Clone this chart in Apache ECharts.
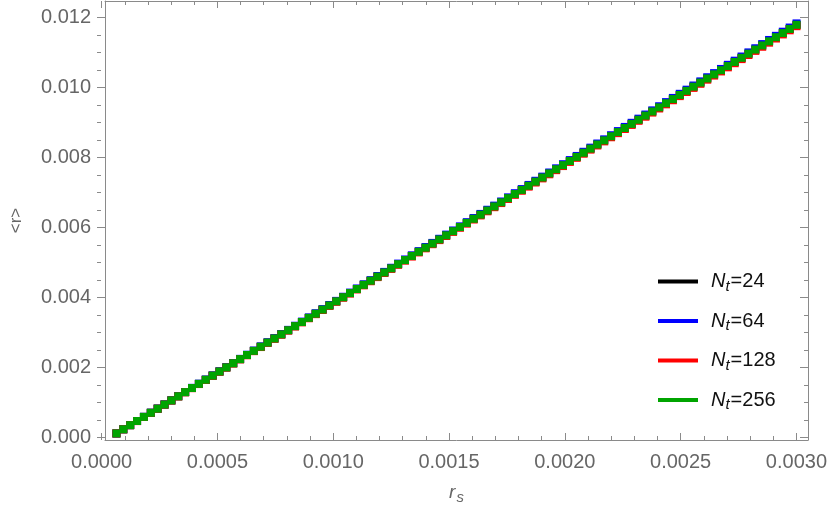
<!DOCTYPE html>
<html>
<head>
<meta charset="utf-8">
<script src="https://cdn.jsdelivr.net/npm/echarts@6/dist/echarts.min.js"></script>
<style>
  html, body { margin: 0; padding: 0; background: #fff; }
  #chart { width: 830px; height: 515px; }
</style>
</head>
<body>
<div id="chart"></div>
<script>
// r_s values (x)
var rs = [0.00003, 0.00006, 0.00009, 0.00012, 0.00015, 0.00018, 0.00021, 0.00024, 0.00027, 0.00030,
  0.00033, 0.00036, 0.00039, 0.00042, 0.00045, 0.00048, 0.00051, 0.00054, 0.00057, 0.00060,
  0.00063, 0.00066, 0.00069, 0.00072, 0.00075, 0.00078, 0.00081, 0.00084, 0.00087, 0.00090,
  0.00093, 0.00096, 0.00099, 0.00102, 0.00105, 0.00108, 0.00111, 0.00114, 0.00117, 0.00120,
  0.00123, 0.00126, 0.00129, 0.00132, 0.00135, 0.00138, 0.00141, 0.00144, 0.00147, 0.00150,
  0.00153, 0.00156, 0.00159, 0.00162, 0.00165, 0.00168, 0.00171, 0.00174, 0.00177, 0.00180,
  0.00183, 0.00186, 0.00189, 0.00192, 0.00195, 0.00198, 0.00201, 0.00204, 0.00207, 0.00210,
  0.00213, 0.00216, 0.00219, 0.00222, 0.00225, 0.00228, 0.00231, 0.00234, 0.00237, 0.00240,
  0.00243, 0.00246, 0.00249, 0.00252, 0.00255, 0.00258, 0.00261, 0.00264, 0.00267, 0.00270,
  0.00273, 0.00276, 0.00279, 0.00282, 0.00285, 0.00288, 0.00291, 0.00294, 0.00297, 0.00300];

// <r> for Nt = 24 (hidden under the other curves)
var r24 = [0.000118, 0.000236, 0.000354, 0.000472, 0.000590, 0.000707, 0.000825, 0.000943, 0.001061, 0.001179,
  0.001297, 0.001415, 0.001533, 0.001651, 0.001769, 0.001886, 0.002004, 0.002122, 0.002240, 0.002358,
  0.002476, 0.002594, 0.002712, 0.002830, 0.002948, 0.003065, 0.003183, 0.003301, 0.003419, 0.003537,
  0.003655, 0.003773, 0.003891, 0.004009, 0.004127, 0.004244, 0.004362, 0.004480, 0.004598, 0.004716,
  0.004834, 0.004952, 0.005070, 0.005188, 0.005306, 0.005423, 0.005541, 0.005659, 0.005777, 0.005895,
  0.006013, 0.006131, 0.006249, 0.006367, 0.006485, 0.006602, 0.006720, 0.006838, 0.006956, 0.007074,
  0.007192, 0.007310, 0.007428, 0.007546, 0.007664, 0.007781, 0.007899, 0.008017, 0.008135, 0.008253,
  0.008371, 0.008489, 0.008607, 0.008725, 0.008843, 0.008960, 0.009078, 0.009196, 0.009314, 0.009432,
  0.009550, 0.009668, 0.009786, 0.009904, 0.010022, 0.010139, 0.010257, 0.010375, 0.010493, 0.010611,
  0.010729, 0.010847, 0.010965, 0.011083, 0.011201, 0.011318, 0.011436, 0.011554, 0.011672, 0.011790];

// <r> for Nt = 64
var r64 = [0.000118, 0.000237, 0.000355, 0.000473, 0.000592, 0.000710, 0.000828, 0.000946, 0.001065, 0.001183,
  0.001301, 0.001420, 0.001538, 0.001656, 0.001775, 0.001893, 0.002011, 0.002129, 0.002248, 0.002366,
  0.002484, 0.002603, 0.002721, 0.002839, 0.002958, 0.003076, 0.003194, 0.003312, 0.003431, 0.003549,
  0.003667, 0.003786, 0.003904, 0.004022, 0.004141, 0.004259, 0.004377, 0.004495, 0.004614, 0.004732,
  0.004850, 0.004969, 0.005087, 0.005205, 0.005324, 0.005442, 0.005560, 0.005678, 0.005797, 0.005915,
  0.006033, 0.006152, 0.006270, 0.006388, 0.006507, 0.006625, 0.006743, 0.006861, 0.006980, 0.007098,
  0.007216, 0.007335, 0.007453, 0.007571, 0.007690, 0.007808, 0.007926, 0.008044, 0.008163, 0.008281,
  0.008399, 0.008518, 0.008636, 0.008754, 0.008873, 0.008991, 0.009109, 0.009227, 0.009346, 0.009464,
  0.009582, 0.009701, 0.009819, 0.009937, 0.010056, 0.010174, 0.010292, 0.010410, 0.010529, 0.010647,
  0.010765, 0.010884, 0.011002, 0.011120, 0.011239, 0.011357, 0.011475, 0.011593, 0.011712, 0.011830];

// <r> for Nt = 128
var r128 = [0.000118, 0.000235, 0.000353, 0.000470, 0.000588, 0.000705, 0.000823, 0.000940, 0.001058, 0.001175,
  0.001293, 0.001410, 0.001528, 0.001645, 0.001763, 0.001880, 0.001998, 0.002115, 0.002233, 0.002350,
  0.002468, 0.002585, 0.002703, 0.002820, 0.002938, 0.003055, 0.003173, 0.003290, 0.003408, 0.003525,
  0.003643, 0.003760, 0.003878, 0.003995, 0.004113, 0.004230, 0.004348, 0.004465, 0.004583, 0.004700,
  0.004818, 0.004935, 0.005053, 0.005170, 0.005288, 0.005405, 0.005523, 0.005640, 0.005758, 0.005875,
  0.005993, 0.006110, 0.006228, 0.006345, 0.006463, 0.006580, 0.006698, 0.006815, 0.006933, 0.007050,
  0.007168, 0.007285, 0.007403, 0.007520, 0.007638, 0.007755, 0.007873, 0.007990, 0.008108, 0.008225,
  0.008343, 0.008460, 0.008578, 0.008695, 0.008813, 0.008930, 0.009048, 0.009165, 0.009283, 0.009400,
  0.009518, 0.009635, 0.009753, 0.009870, 0.009988, 0.010105, 0.010223, 0.010340, 0.010458, 0.010575,
  0.010693, 0.010810, 0.010928, 0.011045, 0.011163, 0.011280, 0.011398, 0.011515, 0.011633, 0.011750];

// <r> for Nt = 256
var r256 = [0.000118, 0.000236, 0.000354, 0.000472, 0.000590, 0.000707, 0.000825, 0.000943, 0.001061, 0.001179,
  0.001297, 0.001415, 0.001533, 0.001651, 0.001769, 0.001886, 0.002004, 0.002122, 0.002240, 0.002358,
  0.002476, 0.002594, 0.002712, 0.002830, 0.002948, 0.003065, 0.003183, 0.003301, 0.003419, 0.003537,
  0.003655, 0.003773, 0.003891, 0.004009, 0.004127, 0.004244, 0.004362, 0.004480, 0.004598, 0.004716,
  0.004834, 0.004952, 0.005070, 0.005188, 0.005306, 0.005423, 0.005541, 0.005659, 0.005777, 0.005895,
  0.006013, 0.006131, 0.006249, 0.006367, 0.006485, 0.006602, 0.006720, 0.006838, 0.006956, 0.007074,
  0.007192, 0.007310, 0.007428, 0.007546, 0.007664, 0.007781, 0.007899, 0.008017, 0.008135, 0.008253,
  0.008371, 0.008489, 0.008607, 0.008725, 0.008843, 0.008960, 0.009078, 0.009196, 0.009314, 0.009432,
  0.009550, 0.009668, 0.009786, 0.009904, 0.010022, 0.010139, 0.010257, 0.010375, 0.010493, 0.010611,
  0.010729, 0.010847, 0.010965, 0.011083, 0.011201, 0.011318, 0.011436, 0.011554, 0.011672, 0.011790];

var ntLabels = ['24', '64', '128', '256'];
var seriesData = [r24, r64, r128, r256];
var colors = ['#000000', '#0000ff', '#ff0000', '#00a400'];

// plot frame (px) and data range of the frame
var W = 830, H = 515;
var L = 97, R = 808, T = 1, B = 440;
var X_MIN = -0.00002, X_MAX = 0.00305;
var Y_MIN = -0.00007, Y_MAX = 0.01247;
function px(v) { return L + (v - X_MIN) / (X_MAX - X_MIN) * (R - L); }
function py(v) { return B - (v - Y_MIN) / (Y_MAX - Y_MIN) * (B - T); }

var FONT = 'Liberation Sans, Arial, sans-serif';
var frameColor = '#8a8a8a';
var labelColor = '#666666';

var chart = echarts.init(document.getElementById('chart'));

function pairs(ys) {
  return rs.map(function (x, i) { return [x, ys[i]]; });
}

var series = seriesData.map(function (ys, i) {
  return {
    name: 'Nt=' + ntLabels[i],
    type: 'scatter',
    xAxisIndex: 0,
    yAxisIndex: 0,
    symbol: 'rect',
    symbolSize: 8,
    itemStyle: { color: colors[i], opacity: 1 },
    emphasis: { disabled: true },
    silent: true,
    data: pairs(ys)
  };
});

var hidden = { show: false };

var option = {
  animation: false,
  backgroundColor: '#fff',
  color: colors,
  grid: [
    // frame + data
    { left: L, right: W - R, top: T, bottom: H - B },
    // x ticks (0 .. 0.003)
    { left: px(0), right: W - px(0.003), top: T, bottom: H - B },
    // y ticks (0 .. 0.012)
    { left: L, right: W - R, top: py(0.012), bottom: H - py(0) }
  ],
  legend: {
    orient: 'vertical',
    left: 653,
    top: 264,
    icon: 'rect',
    itemWidth: 40,
    itemHeight: 4,
    itemGap: 14.5,
    selectedMode: false,
    data: series.map(function (s) { return s.name; }),
    formatter: function (name) {
      return '{n|N}{t|t}{v|=' + name.slice(3) + '}';
    },
    textStyle: {
      color: '#111',
      fontFamily: FONT,
      rich: {
        n: { fontSize: 20, fontStyle: 'italic', fontFamily: FONT, color: '#111', lineHeight: 26, padding: [0, 0, 0, 8] },
        t: { fontSize: 15, fontStyle: 'italic', fontFamily: FONT, color: '#111', lineHeight: 26, padding: [10, 1, 0, 0] },
        v: { fontSize: 20, fontFamily: FONT, color: '#111', lineHeight: 26 }
      }
    }
  },
  xAxis: [
    // 0: data / bottom frame
    {
      type: 'value', gridIndex: 0, min: X_MIN, max: X_MAX, position: 'bottom',
      axisLine: { show: true, onZero: false, lineStyle: { color: frameColor, width: 1 } },
      axisTick: hidden, axisLabel: hidden, splitLine: hidden,
      name: '{r|r}{s|s}', nameLocation: 'middle', nameGap: 41,
      nameTextStyle: {
        rich: {
          r: { fontSize: 19, fontStyle: 'italic', fontFamily: FONT, color: labelColor },
          s: { fontSize: 15, fontStyle: 'italic', fontFamily: FONT, color: labelColor, padding: [9, 0, 0, 1] }
        }
      }
    },
    // 1: top frame
    {
      type: 'value', gridIndex: 0, min: X_MIN, max: X_MAX, position: 'top',
      axisLine: { show: true, onZero: false, lineStyle: { color: frameColor, width: 1 } },
      axisTick: hidden, axisLabel: hidden, splitLine: hidden
    },
    // 2: bottom ticks and labels
    {
      type: 'value', gridIndex: 1, min: 0, max: 0.003, interval: 0.0005, position: 'bottom',
      axisLine: { show: false, onZero: false },
      axisTick: { show: true, inside: true, length: 7, lineStyle: { color: frameColor } },
      minorTick: { show: true, splitNumber: 5, length: 4, lineStyle: { color: frameColor } },
      axisLabel: {
        show: true, margin: 12, color: labelColor, fontSize: 20, fontFamily: FONT,
        formatter: function (v) { return v.toFixed(4); }
      },
      splitLine: hidden
    },
    // 3: top ticks
    {
      type: 'value', gridIndex: 1, min: 0, max: 0.003, interval: 0.0005, position: 'top',
      axisLine: { show: false, onZero: false },
      axisTick: { show: true, inside: true, length: 7, lineStyle: { color: frameColor } },
      minorTick: { show: true, splitNumber: 5, length: 4, lineStyle: { color: frameColor } },
      axisLabel: hidden, splitLine: hidden
    },
    // 4: hidden (y tick grid)
    { type: 'value', gridIndex: 2, show: false, min: 0, max: 1 }
  ],
  yAxis: [
    // 0: data / left frame
    {
      type: 'value', gridIndex: 0, min: Y_MIN, max: Y_MAX, position: 'left',
      axisLine: { show: true, onZero: false, lineStyle: { color: frameColor, width: 1 } },
      axisTick: hidden, axisLabel: hidden, splitLine: hidden,
      name: '<r>', nameLocation: 'middle', nameGap: 80, nameRotate: 90,
      nameTextStyle: { fontSize: 17, fontFamily: FONT, color: labelColor }
    },
    // 1: right frame
    {
      type: 'value', gridIndex: 0, min: Y_MIN, max: Y_MAX, position: 'right',
      axisLine: { show: true, onZero: false, lineStyle: { color: frameColor, width: 1 } },
      axisTick: hidden, axisLabel: hidden, splitLine: hidden
    },
    // 2: left ticks and labels
    {
      type: 'value', gridIndex: 2, min: 0, max: 0.012, interval: 0.002, position: 'left',
      axisLine: { show: false, onZero: false },
      axisTick: { show: true, inside: true, length: 8, lineStyle: { color: frameColor } },
      minorTick: { show: true, splitNumber: 4, length: 4, lineStyle: { color: frameColor } },
      axisLabel: {
        show: true, margin: 6, color: labelColor, fontSize: 20, fontFamily: FONT,
        formatter: function (v) { return v.toFixed(3); }
      },
      splitLine: hidden
    },
    // 3: right ticks
    {
      type: 'value', gridIndex: 2, min: 0, max: 0.012, interval: 0.002, position: 'right',
      axisLine: { show: false, onZero: false },
      axisTick: { show: true, inside: true, length: 8, lineStyle: { color: frameColor } },
      minorTick: { show: true, splitNumber: 4, length: 4, lineStyle: { color: frameColor } },
      axisLabel: hidden, splitLine: hidden
    },
    // 4: hidden (x tick grid)
    { type: 'value', gridIndex: 1, show: false, min: 0, max: 1 }
  ],
  series: series
};

chart.setOption(option);
</script>
</body>
</html>
